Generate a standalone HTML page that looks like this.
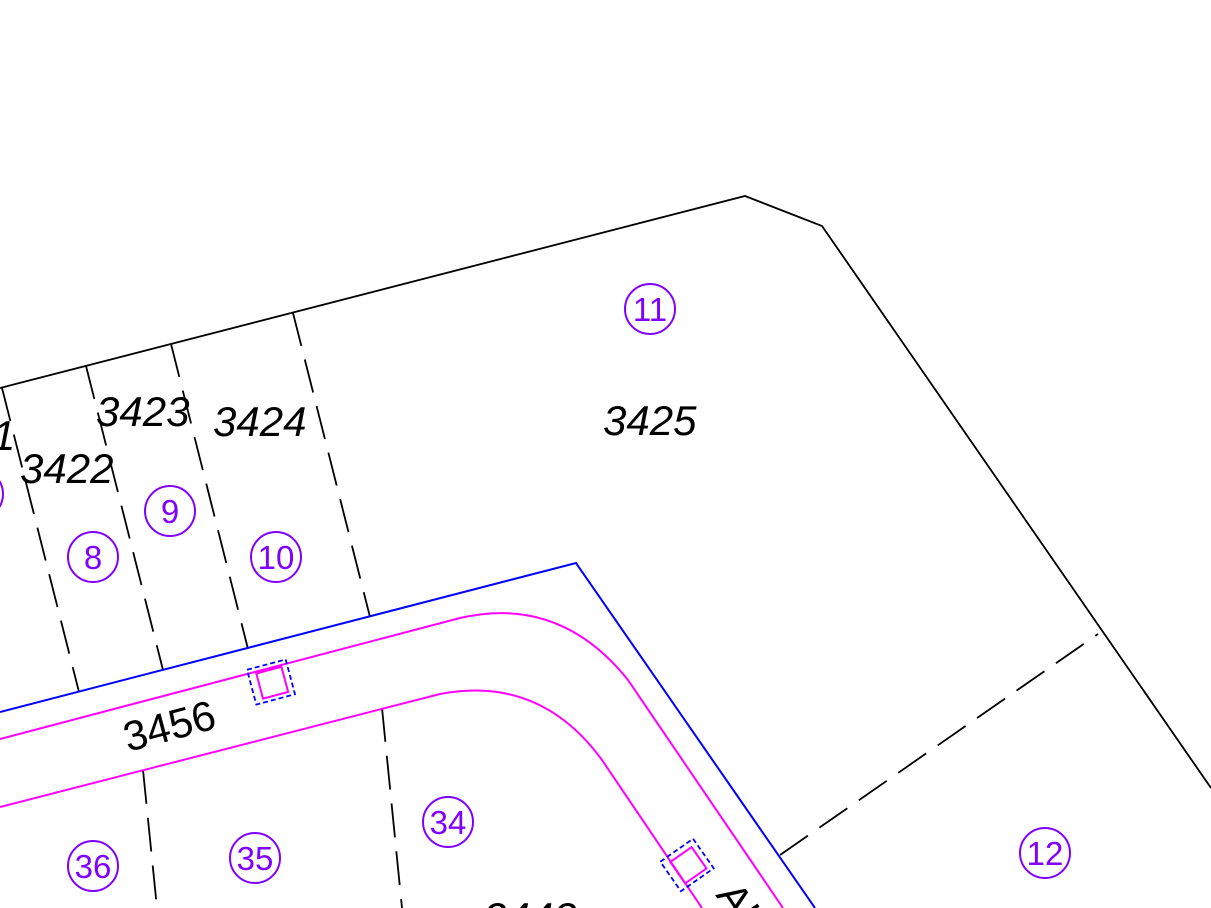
<!DOCTYPE html>
<html><head><meta charset="utf-8"><style>
html,body{margin:0;padding:0;background:#fff;}
svg{display:block;}
.t{font-family:"Liberation Sans",sans-serif;font-size:42px;fill:#000;}
.i{font-style:italic;}
.c{fill:none;stroke:#8000ff;stroke-width:2;}
.n{font-family:"Liberation Sans",sans-serif;font-size:33px;fill:#8000ff;text-anchor:middle;}
</style></head><body>
<svg width="1211" height="908" viewBox="0 0 1211 908" xmlns="http://www.w3.org/2000/svg">
<g fill="none" stroke="#000" stroke-width="1.8">
<polyline points="0,388 745,196 822,226 1211,788"/>
</g>
<g fill="none" stroke="#000" stroke-width="1.8" stroke-dasharray="34,14">
<line x1="2" y1="388" x2="79" y2="692"/>
<line x1="86" y1="366" x2="163" y2="670"/>
<line x1="171" y1="344" x2="248" y2="649"/>
<line x1="293" y1="313" x2="370" y2="617"/>
<line x1="143" y1="770" x2="157" y2="908"/>
<line x1="382" y1="708" x2="402" y2="908"/>
<line x1="780" y1="855" x2="1098" y2="634"/>
</g>
<polyline points="0,712 576,563 815,908" fill="none" stroke="#0000ff" stroke-width="2"/>
<path d="M0,739 L460,618 Q560,595 628,680 L783,908" fill="none" stroke="#ff00ff" stroke-width="2"/>
<path d="M0,807 L440,694 Q540,675 602,760 L702,908" fill="none" stroke="#ff00ff" stroke-width="2"/>
<g transform="translate(271,682) rotate(-15)">
<rect x="-20" y="-18" width="40" height="36" fill="none" stroke="#0000ff" stroke-width="1.8" stroke-dasharray="5,3"/>
<rect x="-12" y="-12" width="26" height="26" fill="none" stroke="#ff00ff" stroke-width="2"/>
</g>
<g transform="translate(687,865) rotate(-35)">
<rect x="-20" y="-18" width="40" height="36" fill="none" stroke="#0000ff" stroke-width="1.8" stroke-dasharray="5,3"/>
<rect x="-12" y="-12" width="26" height="26" fill="none" stroke="#ff00ff" stroke-width="2"/>
</g>
<circle class="c" cx="650" cy="309" r="25"/><text class="n" x="650" y="321">11</text>
<circle class="c" cx="170" cy="511" r="25"/><text class="n" x="170" y="523">9</text>
<circle class="c" cx="93" cy="557" r="25"/><text class="n" x="93" y="569">8</text>
<circle class="c" cx="276" cy="557" r="25"/><text class="n" x="276" y="569">10</text>
<circle class="c" cx="448" cy="822" r="25"/><text class="n" x="448" y="834">34</text>
<circle class="c" cx="255" cy="858" r="25"/><text class="n" x="255" y="870">35</text>
<circle class="c" cx="93" cy="866" r="25"/><text class="n" x="93" y="878">36</text>
<circle class="c" cx="1045" cy="853" r="25"/><text class="n" x="1045" y="865">12</text>
<circle class="c" cx="-22" cy="494" r="25"/>
<text class="t i" x="96" y="426">3423</text>
<text class="t i" x="213" y="436">3424</text>
<text class="t i" x="603" y="435">3425</text>
<text class="t i" x="20" y="483">3422</text>
<text class="t i" x="-8" y="450">1</text>
<text class="t i" x="483" y="932">3443</text>
<text class="t" transform="translate(128,752) rotate(-15)">3456</text>
<text class="t" transform="translate(715,895) rotate(56)">Al</text>
</svg>
</body></html>
